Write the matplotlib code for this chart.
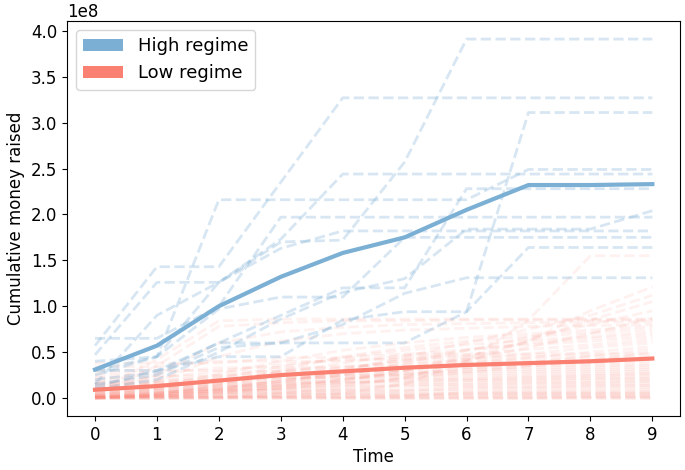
import numpy as np
import matplotlib
matplotlib.use("Agg")
import matplotlib.pyplot as plt
from matplotlib.patches import Patch

# time steps
time = [0, 1, 2, 3, 4, 5, 6, 7, 8, 9]

# high regime runs (units of 1e8)
high_runs = [
    [0.47, 1.26, 1.26, 1.70, 1.72, 2.57, 3.91, 3.91, 3.91, 3.91],
    [0.57, 1.43, 1.43, 2.35, 3.27, 3.27, 3.27, 3.27, 3.27, 3.27],
    [0.30, 0.30, 0.45, 0.45, 0.85, 0.94, 0.94, 3.11, 3.11, 3.11],
    [0.25, 0.45, 2.16, 2.16, 2.16, 2.16, 2.16, 2.49, 2.49, 2.49],
    [0.15, 0.90, 1.26, 1.73, 2.44, 2.44, 2.44, 2.44, 2.44, 2.44],
    [0.12, 0.30, 0.60, 0.90, 1.20, 1.20, 2.28, 2.28, 2.28, 2.28],
    [0.10, 0.20, 0.50, 0.86, 1.15, 1.30, 1.84, 1.84, 1.84, 2.04],
    [0.65, 0.65, 1.00, 1.97, 1.97, 1.97, 1.97, 1.97, 1.97, 1.97],
    [0.40, 0.45, 1.26, 1.63, 1.82, 1.82, 1.82, 1.82, 1.82, 1.82],
    [0.30, 0.45, 0.97, 1.10, 1.10, 1.75, 1.75, 1.75, 1.75, 1.75],
    [0.20, 0.28, 0.60, 0.60, 0.60, 0.60, 0.94, 1.64, 1.64, 1.64],
    [0.15, 0.25, 0.55, 0.60, 0.80, 1.14, 1.31, 1.31, 1.31, 1.31],
]

# low regime runs (units of 1e8)
low_runs = [
    [0.00, 0.00, 0.00, 0.00, 0.00, 0.00, 0.00, 0.00, 0.00, 0.00],
    [0.01, 0.01, 0.01, 0.01, 0.01, 0.01, 0.01, 0.01, 0.01, 0.01],
    [0.02, 0.02, 0.02, 0.02, 0.03, 0.03, 0.03, 0.03, 0.03, 0.03],
    [0.03, 0.03, 0.03, 0.05, 0.05, 0.05, 0.05, 0.05, 0.05, 0.05],
    [0.04, 0.04, 0.06, 0.06, 0.06, 0.07, 0.07, 0.07, 0.07, 0.07],
    [0.05, 0.05, 0.05, 0.05, 0.09, 0.09, 0.09, 0.09, 0.09, 0.09],
    [0.06, 0.06, 0.08, 0.08, 0.08, 0.08, 0.11, 0.11, 0.11, 0.11],
    [0.07, 0.07, 0.07, 0.12, 0.12, 0.12, 0.12, 0.12, 0.13, 0.13],
    [0.08, 0.08, 0.10, 0.10, 0.14, 0.14, 0.14, 0.14, 0.14, 0.14],
    [0.09, 0.09, 0.09, 0.09, 0.09, 0.15, 0.15, 0.16, 0.16, 0.16],
    [0.10, 0.10, 0.13, 0.13, 0.17, 0.17, 0.17, 0.17, 0.17, 0.18],
    [0.11, 0.11, 0.11, 0.18, 0.18, 0.18, 0.19, 0.19, 0.19, 0.19],
    [0.12, 0.12, 0.16, 0.16, 0.16, 0.20, 0.20, 0.20, 0.21, 0.21],
    [0.13, 0.13, 0.13, 0.13, 0.21, 0.21, 0.21, 0.22, 0.22, 0.22],
    [0.14, 0.14, 0.18, 0.22, 0.22, 0.23, 0.23, 0.23, 0.24, 0.24],
    [0.15, 0.15, 0.15, 0.20, 0.25, 0.25, 0.25, 0.25, 0.25, 0.26],
    [0.16, 0.16, 0.22, 0.22, 0.22, 0.27, 0.27, 0.27, 0.27, 0.27],
    [0.17, 0.17, 0.17, 0.24, 0.29, 0.29, 0.29, 0.29, 0.29, 0.29],
    [0.18, 0.18, 0.25, 0.25, 0.25, 0.25, 0.31, 0.31, 0.31, 0.31],
    [0.20, 0.20, 0.20, 0.27, 0.27, 0.33, 0.33, 0.33, 0.33, 0.33],
    [0.22, 0.22, 0.29, 0.29, 0.35, 0.35, 0.35, 0.35, 0.35, 0.35],
    [0.24, 0.24, 0.24, 0.30, 0.30, 0.30, 0.37, 0.37, 0.37, 0.37],
    [0.27, 0.27, 0.33, 0.33, 0.33, 0.39, 0.39, 0.39, 0.39, 0.40],
    [0.30, 0.30, 0.30, 0.36, 0.42, 0.42, 0.42, 0.42, 0.42, 0.42],
    [0.34, 0.34, 0.40, 0.40, 0.40, 0.45, 0.45, 0.45, 0.45, 0.45],
    [0.38, 0.38, 0.38, 0.44, 0.44, 0.48, 0.48, 0.48, 0.48, 0.48],
    [0.00, 0.02, 0.05, 0.10, 0.15, 0.22, 0.28, 0.35, 0.41, 0.50],
    [0.01, 0.03, 0.08, 0.14, 0.20, 0.26, 0.32, 0.38, 0.46, 0.53],
    [0.00, 0.05, 0.12, 0.18, 0.25, 0.31, 0.38, 0.44, 0.50, 0.56],
    [0.02, 0.06, 0.10, 0.20, 0.28, 0.36, 0.42, 0.48, 0.55, 0.60],
    [0.01, 0.04, 0.14, 0.24, 0.33, 0.41, 0.47, 0.53, 0.58, 0.63],
    [0.03, 0.08, 0.18, 0.28, 0.38, 0.47, 0.53, 0.58, 0.62, 0.66],
    [0.00, 0.03, 0.09, 0.16, 0.30, 0.42, 0.52, 0.60, 0.65, 0.69],
    [0.02, 0.10, 0.22, 0.34, 0.44, 0.52, 0.58, 0.63, 0.67, 0.72],
    [0.01, 0.05, 0.15, 0.30, 0.45, 0.55, 0.62, 0.67, 0.71, 0.75],
    [0.04, 0.12, 0.26, 0.40, 0.52, 0.60, 0.66, 0.70, 0.74, 0.78],
    [0.02, 0.18, 0.45, 0.62, 0.70, 0.74, 0.76, 0.78, 0.79, 0.80],
    [0.05, 0.25, 0.60, 0.72, 0.77, 0.80, 0.81, 0.82, 0.83, 0.83],
    [0.03, 0.35, 0.78, 0.82, 0.84, 0.84, 0.85, 0.85, 0.85, 0.85],
    [0.06, 0.42, 0.84, 0.86, 0.86, 0.86, 0.86, 0.86, 0.86, 0.86],
    [0.00, 0.02, 0.06, 0.12, 0.20, 0.30, 0.42, 0.55, 0.70, 0.87],
    [0.01, 0.03, 0.08, 0.15, 0.25, 0.38, 0.52, 0.66, 0.80, 0.95],
    [0.00, 0.02, 0.05, 0.10, 0.18, 0.30, 0.45, 0.62, 0.85, 1.05],
    [0.02, 0.05, 0.10, 0.18, 0.30, 0.45, 0.60, 0.75, 0.90, 1.12],
    [0.00, 0.01, 0.03, 0.06, 0.12, 0.22, 0.40, 0.62, 0.95, 1.21],
    [0.00, 0.00, 0.01, 0.02, 0.05, 0.15, 0.40, 0.85, 1.55, 1.55],
    [0.00, 0.00, 0.00, 0.00, 0.00, 0.00, 0.00, 0.00, 0.01, 0.01],
    [0.01, 0.01, 0.01, 0.01, 0.01, 0.02, 0.02, 0.02, 0.02, 0.02],
    [0.00, 0.00, 0.00, 0.04, 0.04, 0.04, 0.04, 0.04, 0.04, 0.04],
    [0.02, 0.02, 0.02, 0.02, 0.02, 0.02, 0.06, 0.06, 0.06, 0.06],
]

high_mean = [0.31, 0.57, 1.00, 1.32, 1.58, 1.75, 2.05, 2.32, 2.32, 2.33]
low_mean = [0.09, 0.13, 0.19, 0.25, 0.29, 0.33, 0.36, 0.38, 0.40, 0.43]

scale = 1e8
blue = "#7bafd4"
red = "#fa8072"

plt.rcParams["font.size"] = 12

fig, ax = plt.subplots(figsize=(6.85, 4.70), dpi=100)
fig.subplots_adjust(left=0.098, right=0.993, top=0.955, bottom=0.115)

for run in low_runs:
    ax.plot(time, np.array(run) * scale, color=red, alpha=0.11, lw=2, ls="--")
for run in high_runs:
    ax.plot(time, np.array(run) * scale, color=blue, alpha=0.3, lw=2, ls="--")

ax.plot(time, np.array(high_mean) * scale, color=blue, lw=3)
ax.plot(time, np.array(low_mean) * scale, color=red, lw=3)

ax.set_xticks(time)
ax.set_xlabel("Time", labelpad=3)
ax.set_ylabel("Cumulative money raised")

handles = [Patch(facecolor=blue, label="High regime"),
           Patch(facecolor=red, label="Low regime")]
ax.legend(handles=handles, loc="upper left", fontsize=13, handlelength=2.2)

plt.savefig("out.png", dpi=100)
